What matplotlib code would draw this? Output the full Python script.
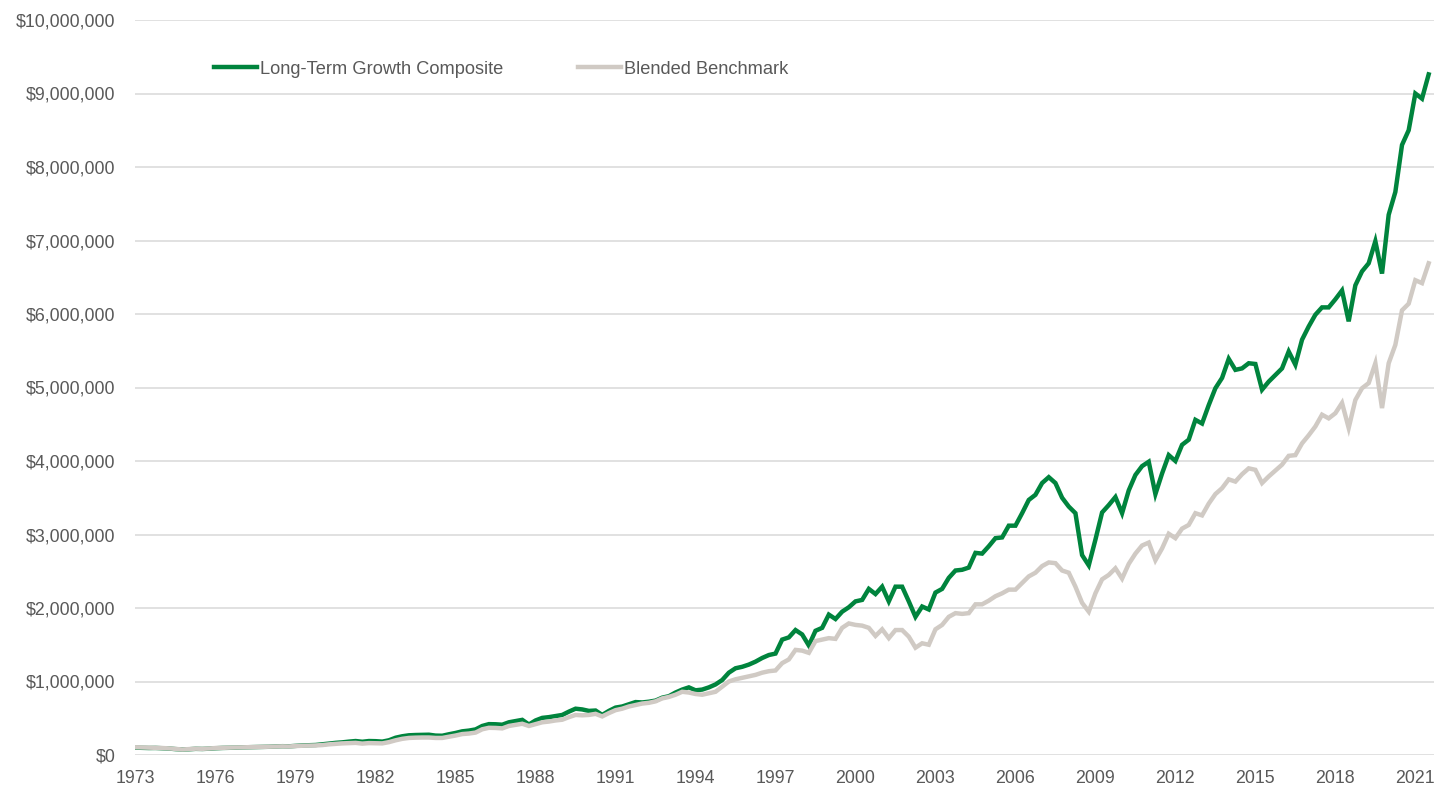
import matplotlib
matplotlib.use("Agg")
import matplotlib.pyplot as plt
from matplotlib.ticker import FuncFormatter, FixedLocator
import numpy as np

# Quarterly growth of $100,000 (values in $ thousands), 195 quarters
green_k = [
    100, 98, 95, 96, 92, 88, 80, 75, 78, 84, 82, 86,
    92, 96, 98, 100, 104, 106, 108, 110, 112, 116, 120, 118,
    124, 130, 133, 136, 145, 155, 165, 172, 182, 190, 180, 190,
    188, 182, 200, 235, 255, 268, 272, 274, 276, 264, 262, 282,
    300, 322, 332, 348, 395, 420, 418, 412, 445, 462, 478, 415,
    470, 505, 515, 530, 545, 590, 630, 620, 600, 605, 545, 600,
    645, 660, 690, 720, 715, 725, 740, 780, 800, 850, 890, 920,
    880, 890, 920, 960, 1020, 1120, 1180, 1200, 1230, 1270, 1320, 1360,
    1380, 1570, 1600, 1700, 1640, 1490, 1690, 1730, 1910, 1850, 1950, 2010,
    2090, 2110, 2260, 2190, 2290, 2090, 2290, 2290, 2090, 1880, 2020, 1980,
    2210, 2260, 2410, 2510, 2520, 2550, 2750, 2740, 2840, 2950, 2960, 3120,
    3120, 3290, 3470, 3540, 3700, 3780, 3700, 3500, 3380, 3290, 2720, 2580,
    2930, 3300, 3400, 3510, 3290, 3600, 3810, 3930, 3990, 3550, 3830, 4080,
    4000, 4220, 4290, 4560, 4510, 4760, 4990, 5130, 5390, 5240, 5260, 5330,
    5320, 4970, 5080, 5170, 5260, 5490, 5310, 5650, 5830, 5990, 6090, 6090,
    6200, 6320, 5900, 6390, 6580, 6690, 6990, 6550, 7350, 7660, 8300, 8500,
    9000, 8930, 9260,
]
gray_k = [
    105, 102, 100, 98, 95, 90, 82, 75, 80, 86, 84, 88,
    95, 98, 100, 102, 104, 106, 108, 110, 112, 115, 118, 116,
    122, 126, 128, 130, 135, 145, 152, 158, 162, 165, 155, 162,
    160, 158, 175, 200, 220, 232, 236, 238, 238, 232, 232, 248,
    265, 285, 292, 305, 350, 370, 368, 362, 395, 410, 425, 395,
    420, 445, 455, 470, 480, 515, 545, 540, 545, 560, 525, 570,
    610, 630, 660, 680, 700, 710, 730, 770, 790, 820, 860, 850,
    830, 820, 840, 860, 930, 1000, 1030, 1050, 1070, 1090, 1120, 1140,
    1150, 1250, 1300, 1430, 1420, 1390, 1550, 1570, 1590, 1580, 1730, 1790,
    1770, 1760, 1730, 1620, 1710, 1590, 1700, 1700, 1610, 1460, 1520, 1500,
    1710, 1770, 1880, 1930, 1920, 1930, 2050, 2050, 2100, 2160, 2200, 2250,
    2250, 2340, 2430, 2480, 2570, 2620, 2610, 2510, 2480, 2290, 2070, 1950,
    2200, 2390, 2450, 2540, 2400, 2600, 2740, 2850, 2890, 2650, 2810, 3010,
    2950, 3080, 3130, 3290, 3260, 3420, 3550, 3630, 3750, 3720, 3820, 3900,
    3880, 3700, 3790, 3870, 3950, 4070, 4080, 4240, 4350, 4470, 4630, 4580,
    4650, 4790, 4450, 4830, 4990, 5060, 5330, 4720, 5330, 5580, 6050, 6140,
    6460, 6420, 6690,
]
year_labels = [str(y) for y in range(1973, 2022, 3)]
series_names = ["Long-Term Growth Composite", "Blended Benchmark"]

green = np.array(green_k) * 1000
gray = np.array(gray_k) * 1000
x = np.arange(len(green))

plt.rcParams['font.family'] = ['Liberation Sans', 'DejaVu Sans']

fig = plt.figure(figsize=(14.5, 7.87), dpi=100)
ax = fig.add_axes([135/1450, 1 - 755/787, (1434-135)/1450, (755-20)/787])

ax.plot(x, green, color='#00843D', lw=3.2, solid_joinstyle='miter', label=series_names[0], zorder=3)
ax.plot(x, gray, color='#D0CAC4', lw=3.2, solid_joinstyle='miter', label=series_names[1], zorder=4)

ax.set_xlim(-0.1, 194.8)
ax.set_ylim(0, 10_000_000)
ax.yaxis.set_major_locator(FixedLocator(np.arange(0, 10_000_001, 1_000_000)))
ax.yaxis.set_major_formatter(FuncFormatter(lambda v, p: f"${v:,.0f}"))
ax.xaxis.set_major_locator(FixedLocator(np.arange(0, 195, 12)))
ax.set_xticklabels(year_labels)

ax.grid(axis='y', color='#D9D9D9', lw=1.1)
ax.set_axisbelow(True)
for s in ax.spines.values():
    s.set_visible(False)
ax.tick_params(axis='both', length=0, colors='#595959', labelsize=12.8)
ax.tick_params(axis='y', pad=14)
ax.tick_params(axis='x', pad=11)

leg = ax.legend(loc='center left', bbox_to_anchor=(214/1450, 1 - 69/787),
                bbox_transform=fig.transFigure, ncol=2, frameon=False,
                fontsize=13.15, handlelength=2.35, handletextpad=0.16,
                columnspacing=4.1, borderpad=0, borderaxespad=0)
for t in leg.get_texts():
    t.set_color('#595959')

fig.savefig("out.png", dpi=100)
